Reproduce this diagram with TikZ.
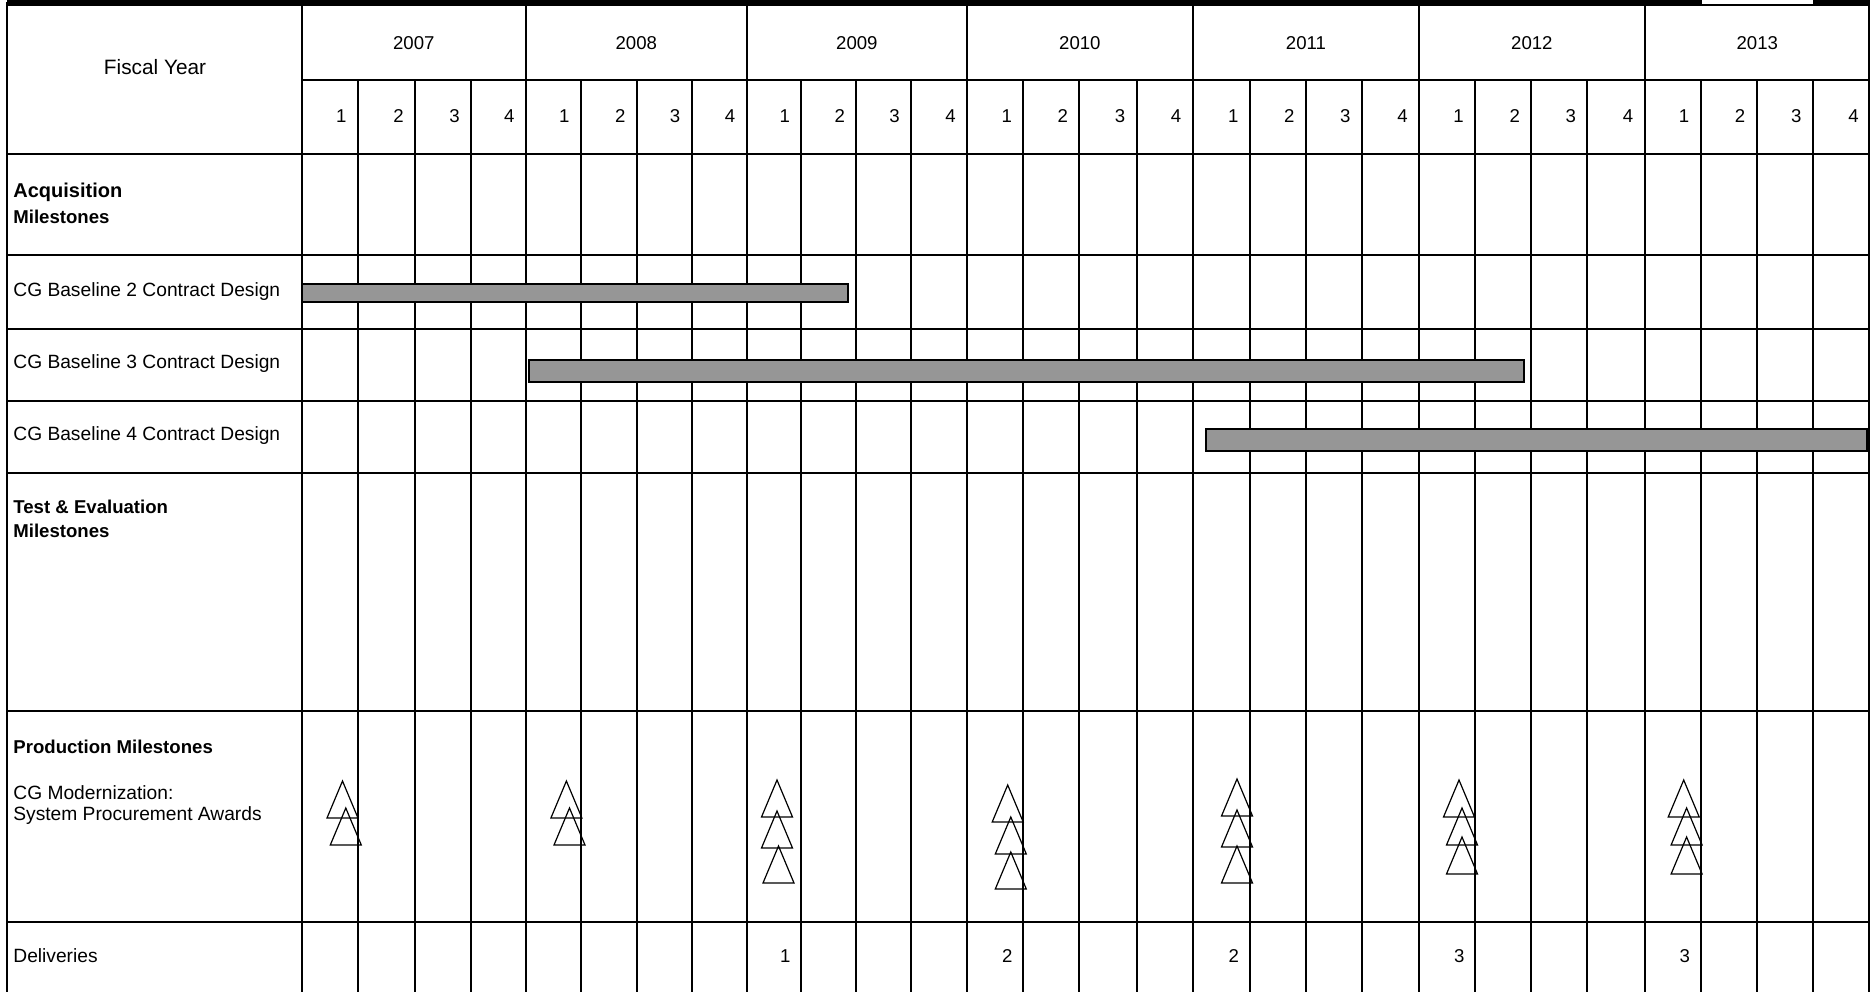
\documentclass[tikz,border=0pt]{standalone}
\usepackage{fontspec}
\setmainfont{Liberation Sans}
\definecolor{bargray}{RGB}{150,150,150}
\begin{document}
\begin{tikzpicture}[x=0.5pt,y=-0.5pt,
  gridline/.style={line width=1pt,black},
  txt/.style={inner sep=0pt,font=\fontsize{9.3}{11}\selectfont},
  lbl/.style={txt,anchor=west,font=\fontsize{9.6}{11}\selectfont},
  bold/.style={lbl,font=\fontsize{9.3}{11}\selectfont\bfseries},
  bar/.style={fill=bargray,draw=black,line width=0.6pt},
  tri/.style={draw=black,line width=0.6pt}]
\useasboundingbox (0,0) rectangle (1870,992);
\fill[white] (0,0) rectangle (1870,992);
% quarter line positions
\def\qlines{301.7,357.8,415.0,471.1,525.9,580.8,636.8,691.7,746.6,801.4,856.3,911.1,967.2,1023.3,1079.3,1136.6,1192.6,1249.8,1305.9,1361.9,1419.2,1475.2,1531.3,1587.3,1644.6,1700.7,1756.7,1812.8,1869}
% top border
\draw[line width=3pt] (7,3) -- (1702,3);
\draw[line width=3pt] (1813,3) -- (1870,3);
\draw[line width=1pt] (1702,5) -- (1813,5);
% left border
\draw[line width=1.4pt] (7,2) -- (7,992);
% vertical lines
\foreach \xx [count=\c from 0] in \qlines {
  \pgfmathtruncatemacro{\md}{mod(\c,4)}
  \ifnum\md=0
    \draw[gridline] (\xx,4) -- (\xx,992);
  \else
    \draw[gridline] (\xx,80) -- (\xx,992);
  \fi
}
% horizontal lines
\draw[gridline] (301.7,80) -- (1870,80);
\draw[line width=1.3pt] (7,154) -- (1870,154);
\foreach \yy in {255,329,401,473,711,922}{
  \draw[gridline] (7,\yy) -- (1870,\yy);
}
% header
\node[txt,font=\fontsize{10.4}{12}\selectfont] (fy) at (155,67) {Fiscal Year};
\foreach \y/\xa/\xb in {2007/301.7/525.9,2008/525.9/746.6,2009/746.6/967.2,2010/967.2/1192.6,2011/1192.6/1419.2,2012/1419.2/1644.6,2013/1644.6/1870}{
  \node[txt] (yr\y) at ({(\xa+\xb)/2},43) {\y};
}
\foreach \xr [count=\k from 0] in {357.8,415.0,471.1,525.9,580.8,636.8,691.7,746.6,801.4,856.3,911.1,967.2,1023.3,1079.3,1136.6,1192.6,1249.8,1305.9,1361.9,1419.2,1475.2,1531.3,1587.3,1644.6,1700.7,1756.7,1812.8,1870}{
  \pgfmathtruncatemacro{\qq}{mod(\k,4)+1}
  \node[txt,anchor=east] (q\k) at (\xr-11,116) {\qq};
}
% row labels
\node[bold,font=\fontsize{10}{12}\selectfont\bfseries] (acq1) at (13,192) {Acquisition};
\node[bold] (acq2) at (13,217) {Milestones};
\node[lbl] (bl2) at (13,292) {CG Baseline 2 Contract Design};
\node[lbl] (bl3) at (13,364) {CG Baseline 3 Contract Design};
\node[lbl] (bl4) at (13,436) {CG Baseline 4 Contract Design};
\node[bold] (te1) at (13,507) {Test \& Evaluation};
\node[bold] (te2) at (13,531) {Milestones};
\node[bold] (pm) at (13,747) {Production Milestones};
\node[lbl] (cgm1) at (13,793) {CG Modernization:};
\node[lbl] (cgm2) at (13,816) {System Procurement Awards};
\node[lbl] (del) at (13,956) {Deliveries};
% bars
\draw[bar] (302,284) rectangle (848,302);
\draw[bar] (529,360) rectangle (1524,382);
\draw[bar] (1206,429) rectangle (1867,451);
% triangles
\foreach \tx/\ty in {342.5/781, 345.8/808,
                     566.4/781, 569.5/808,
                     777/780, 777/811, 778.5/846,
                     1007.7/785, 1010.8/817, 1010.8/852,
                     1237/779, 1237/810, 1237/846,
                     1459/780, 1462/808, 1462/837,
                     1683.7/780, 1686.6/808, 1686.6/837}{
  \draw[tri] (\tx,\ty) -- (\tx-15.5,\ty+37) -- (\tx+15.5,\ty+37) -- cycle;
}
% deliveries
\foreach \dx/\dn [count=\j] in {801.4/1,1023.3/2,1249.8/2,1475.2/3,1700.7/3}{
  \node[txt] (d\j) at (\dx-16,956) {\dn};
}
\end{tikzpicture}
\end{document}
